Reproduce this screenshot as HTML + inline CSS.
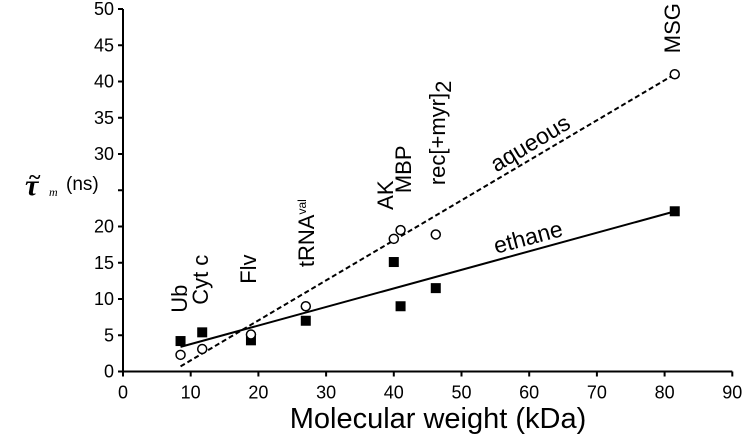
<!DOCTYPE html>
<html><head><meta charset="utf-8"><style>
html,body{margin:0;padding:0;background:#fff;}
svg{display:block;font-family:"Liberation Sans",Arial,sans-serif;}
</style></head><body>
<svg id="c" width="742" height="441" viewBox="0 0 742 441">
<g id="axes"></g><g id="marks"></g><g id="labels"></g>
<text x="438" y="428" font-size="29" text-anchor="middle">Molecular weight (kDa)</text>
<g>
<rect x="20" y="160" width="94" height="40" fill="#fff"></rect>
<text x="25" y="195" font-size="30" font-weight="bold" font-family="Liberation Serif,serif" font-style="italic">τ</text>
<text x="29" y="184" font-size="22" font-weight="bold" font-family="Liberation Serif,serif">~</text>
<text x="49" y="196" font-size="12" font-family="Liberation Serif,serif" font-style="italic">m</text>
<text x="66" y="190" font-size="19">(ns)</text>
</g>
</svg>
<script>
const xTicks=[0,10,20,30,40,50,60,70,80,90];
const yTicks=[0,5,10,15,20,25,30,35,40,45,50];
const proteins=["Ub","Cyt c","Flv","tRNA","AK","MBP","rec[+myr]2","MSG"];
const mw=[8.5,11.7,18.9,27,40,41,46.2,81.5];
const aqueous=[2.3,3.1,5.1,9,18.3,19.5,18.9,41];
const ethane=[4.2,5.4,4.3,7,15.1,9,11.5,22.1];
const aqueousFit=[-3.99,0.552];
const ethaneFit=[1.22,0.256];
const fitRange=[8.5,81.5];
const labelY=[8.1,9.2,12.1,14.4,22.3,24.6,25.7,43.9];
const X=v=>123+v*6.77, Y=v=>371.5-v*7.25;
const NS="http://www.w3.org/2000/svg";
function mk(p,t,a){const e=document.createElementNS(NS,t);for(const k in a)e.setAttribute(k,a[k]);p.appendChild(e);return e;}
const ax=document.getElementById('axes'),mk2=document.getElementById('marks'),lb=document.getElementById('labels');
let e=mk(ax,'line',{x1:X(0),x2:X(90),y1:Y(0),y2:Y(0),stroke:'#000','stroke-width':2});

e=mk(ax,'line',{x1:X(0),x2:X(0),y1:Y(0),y2:Y(50),stroke:'#000','stroke-width':2});

xTicks.forEach(t=>{mk(ax,'line',{x1:X(t),x2:X(t),y1:Y(0),y2:Y(0)+5,stroke:'#000','stroke-width':2});
e=mk(ax,'text',{x:X(t),y:Y(0)+27,'font-size':18,'text-anchor':'middle'});e.textContent=t;
});
yTicks.forEach(t=>{mk(ax,'line',{x1:X(0)-5,x2:X(0),y1:Y(t),y2:Y(t),stroke:'#000','stroke-width':2});
e=mk(ax,'text',{x:X(0)-9,y:Y(t)+6,'font-size':18,'text-anchor':'end'});e.textContent=t;
});
e=mk(mk2,'line',{x1:X(fitRange[0]),x2:X(fitRange[1]),y1:Y(aqueousFit[0]+aqueousFit[1]*fitRange[0]),y2:Y(aqueousFit[0]+aqueousFit[1]*fitRange[1]),stroke:'#000','stroke-width':2,'stroke-dasharray':'5,3'});

e=mk(mk2,'line',{x1:X(fitRange[0]),x2:X(fitRange[1]),y1:Y(ethaneFit[0]+ethaneFit[1]*fitRange[0]),y2:Y(ethaneFit[0]+ethaneFit[1]*fitRange[1]),stroke:'#000','stroke-width':2});

mw.forEach((m,i)=>{
e=mk(mk2,'rect',{x:X(m)-5,y:Y(ethane[i])-5,width:10,height:10,fill:'#000'});

e=mk(mk2,'circle',{cx:X(m),cy:Y(aqueous[i]),r:4.5,fill:'#fff',stroke:'#000','stroke-width':1.5});

});
function rot(txt,x,y,fs,name,ang,anchor){const t=mk(lb,'text',{x:0,y:0,'font-size':fs,transform:`translate(${x},${y}) rotate(${ang})`});
if(anchor){t.setAttribute('text-anchor','middle');t.setAttribute('dy','0.35em');}
t.innerHTML=txt;
return t;}
const lx=[187,208,256,314,393,411,445,680];
const ltxt=["Ub","Cyt c","Flv",'tRNA<tspan font-size="12" dy="-8">val</tspan>',"AK","MBP",'rec[+myr]<tspan dy="6">2</tspan>',"MSG"];
ltxt.forEach((s,i)=>rot(s,lx[i],Y(labelY[i]),22,'protein-label-'+i,-90,false));
rot('aqueous',530,143,23,'aqueous-label',-31,true);
rot('ethane',528,237,23,'ethane-label',-15,true);
</script>
</body></html>
